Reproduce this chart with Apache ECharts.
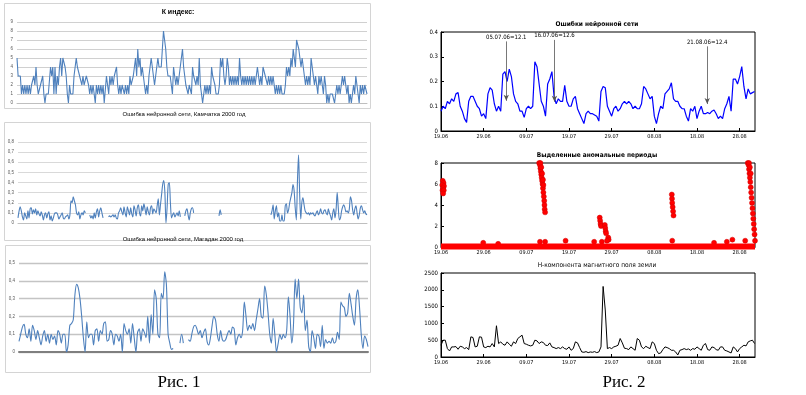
<!DOCTYPE html>
<html><head><meta charset="utf-8">
<script src="https://cdn.jsdelivr.net/npm/echarts@6/dist/echarts.min.js"></script>
<style>html,body{margin:0;padding:0;background:#fff}#c{width:806px;height:395px}</style>
</head><body><div id="c"></div>
<script>
// ---------- DATA ----------
// Рис. 1 — K index (daily, 2000)
const kIndex = [
5,3,3,3,1,2,1,2,1,2, 1,2,1,2,2,3,2,4,2,1, 1,2,2,3,1,0,1,1,1,1, 4,3,4,1,4,1,3,2,4,5,
3,5,5,4,3,1,0,2,1,1, 1,3,4,5,4,4,3,3,2,3, 2,2,3,3,2,1,2,1,2,2, 0,2,1,2,1,2,1,2,0,0,
3,2,1,3,2,3,2,3,3,4, 2,1,2,1,2,2,1,2,1,2, 1,3,2,2,3,4,5,3,6,4, 5,3,4,3,2,1,2,1,3,4,
5,5,3,2,3,4,5,4,4,4, 6,8,7,6,4,3,3,3,2,1, 4,3,2,3,2,2,4,5,6,4, 3,2,2,1,2,
2,1,4,3,3,2,3,2,5,2, 1,0,1,2,1,2,1,2,1,4, 3,3,2,1,1,1,2,5,4,5, 3,2,3,5,4,2,3,2,3,2,
3,2,3,2,5,3,2,3,2,3, 2,3,2,3,2,3,2,3,2,3, 4,3,2,3,2,4,4,3,3,2, 3,2,3,2,3,2,1,2,1,2,
1,2,1,1,1,2,4,3,4,3, 5,4,6,5,4,7,7,6,5,4, 5,4,3,2,3,2,3,2,5,4, 3,2,3,2,1,3,2,3,2,1,
3,2,0,1,0,1,1,1,1,0, 1,2,1,2,1,2,3,2,3,2, 1,2,0,1,0,1,2,1,3,2, 1,0,2,1,2,1,2,2,1
];
// Neural network error, Kamchatka 2000 (null = gap)
const errKamchatka = [
0.05,0.12,0.16,0.12,0.06,0.03,0.1,0.07,0.04,0.12, 0.05,0.14,0.15,0.09,0.13,0.1,0.14,0.08,0.12,0.09,
0.07,0.11,0.08,0.03,0.08,0.1,0.05,0.09,0.11,0.03, 0.07,0.02,0.05,0.09,0.1,0.1,0.08,0.04,0.06,0.08,
0.1,0.05,0.04,0.06,0.07,0.08,0.04,0.08,0.22,0.2, 0.26,0.22,0.18,0.1,0.08,0.11,0.04,0.08,0.1,0.08,
0.12,0.1,null,null,null,0.08,0.05,0.07,0.04,0.1, 0.05,0.11,0.14,0.06,0.12,0.15,0.1,0.05,null,null,
null,null,0.06,0.07,0.06,0.07,0.08,0.06,0.08,0.05, 0.04,0.1,0.12,0.15,0.11,0.08,0.16,0.1,0.06,0.16,
0.12,0.08,0.15,0.09,0.06,0.17,0.13,0.07,0.15,0.18, 0.1,0.07,0.17,0.12,0.19,0.14,0.08,0.16,0.11,0.08,
0.15,0.17,0.09,0.14,0.12,0.1,0.17,0.24,0.08,0.18, 0.28,0.38,0.42,0.3,0,0.15,0.38,0.4,0.2,0.05,
0.08,0.1,0.06,0.08,0.1,0.07,0.12,0.06,null,null, null,0.07,0.12,0.14,0.08,0.03,0.1,0.14,0.15,0.1,
null,null,null,null,null,null,null,null,null,null, null,null,null,null,null,null,null,null,null,null,null,null,
0.07,0.13,0.08,
null,null,null,null,null,null,null,null,null,null, null,null,null,null,null,null,null,null,null,null,
null,null,null,null,null,null,null,null,null,null, null,null,null,null,null,null,null,null,null,null,null,null,null,null,
0.08,0.12,0.18,0.04,0.12,0.17,0.06,0.1,0.02,0.02, 0.08,0.02,0.02,0.17,0.19,0.1,0.13,0.2,0.25,0.3,
0.38,0.32,0.15,0.03,0.4,0.67,0.3,0.04,0.2,0.25, 0.18,0.12,0.1,0.09,0.1,0.08,0.1,0.09,0.1,0.08,
0.07,0.1,0.12,0.08,0.1,0.14,0.1,0.09,0.12,0.13, 0.1,0.08,0.14,0.1,0.07,0.03,0.1,0.14,0.05,0.13,
0.3,0.15,0.03,0.05,0.12,0.16,0.18,0.15,0.11,0.12, 0.1,0.14,0.26,0.22,0.13,0.08,0.14,0.17,0.1,0.04,
0.08,0.15,0.17,0.13,0.1,0.12,0.09,0.08
];
// Neural network error, Magadan 2000
const errMagadan = [
0.06,0.1,0.14,0.155,0.1,0.08,0.13,0.06,0.15,0.12, 0.07,0.12,0.08,0.04,0.09,0.12,0.06,0.1,0.05,0.1,
0.07,0.09,0.04,0.12,0.1,0.05,0.1,0.1,0,0.04, 0.15,0.16,0.18,0.32,0.38,0.36,0.3,0.2,0.08,0,
0.17,0.08,0.1,0.1,0.04,0.12,0.13,0.06,0.12,0.1, 0.16,0.17,0.06,0.07,0.12,0.1,0.04,0.1,0.09,0.06,
0.1,0,0.16,0.12,0.1,0.13,0.05,0.16,0.08,0, 0.11,0.13,0.06,0.13,0.11,0.08,0.2,0.05,0.21,0.1,
0.35,0.3,0.1,0.08,0.33,0.3,0.45,0.38,0.1,0.05, 0.015,0.02,null,null,null,0.05,0.1,0.05,null,null,
0.07,0.06,
0.1,0.14,0.15,0.13,0.1,0.12,0.08,0.11,0.13,0.06, 0.04,0.08,0.15,0.2,0.18,0.1,0.06,0.12,0.07,0.06,
0.07,0.1,0.12,0.1,0.14,0.13,0.04,0.08,0.1,0.08, 0.12,0.28,0.2,0.12,0.15,0.13,0.16,0.12,0.18,0.24,
0.3,0.2,0.19,0.37,0.32,0.22,0.1,0.05,0.19,0.1, 0,0.05,0.1,0.07,0.1,0.08,0.12,0.31,0.2,0.05,
0.15,0.41,0.3,0.41,0.25,0.22,0.32,0.12,0.18,0.03, 0,0.12,0.08,0.02,0.1,0.09,0.03,0.15,0.02,0.07,
0.05,0.06,0.05,0.08,0.05,0.06,0.11,0.07,0.28,0.26, 0.25,0.2,0.22,0.33,0.27,0.2,0.15,0.3,0.35,0.25,
0.1,0.02,0.09,0.07,0.03
];
const kTicksMax = 9;

// Рис. 2 — daily axis from 19.06, samples every half day
const dateTicks = ['19.06','29.06','09.07','19.07','29.07','08.08','18.08','28.08'];
const halfDay = 0.5;
const nnError = [
0.08,0.10,0.09,0.12,0.11,0.13,0.12,0.15,0.155,0.10, 0.08,0.05,0.035,0.12,0.14,0.14,0.12,0.10,0.09,0.06,
0.07,0.05,0.15,0.175,0.165,0.11,0.08,0.10,0.08,0.23, 0.24,0.20,0.25,0.22,0.15,0.12,0.11,0.08,0.08,0.055,
0.09,0.10,0.09,0.10,0.28,0.26,0.19,0.12,0.10,0.06, 0.19,0.21,0.24,0.14,0.11,0.13,0.12,0.12,0.185,0.12,
0.10,0.10,0.13,0.14,0.09,0.07,0.05,0.03,0.07,0.08, 0.07,0.07,0.065,0.06,0.04,0.16,0.18,0.175,0.10,0.08,
0.06,0.09,0.10,0.08,0.09,0.11,0.12,0.11,0.12,0.11, 0.09,0.10,0.09,0.09,0.11,0.18,0.17,0.15,0.13,0.14,
0.06,0.03,0.07,0.10,0.09,0.15,0.16,0.17,0.195,0.13, 0.12,0.12,0.10,0.09,0.09,0.06,0.04,0.09,0.08,0.10,
0.05,0.08,0.10,0.07,0.07,0.075,0.07,0.08,0.085,0.07, 0.05,0.06,0.05,0.09,0.11,0.14,0.08,0.21,0.21,0.19,
0.22,0.26,0.18,0.13,0.17,0.15,0.155,0.16
];
const annotations = [
  {label:'05.07.06=12.1', day:15.3, top:0.362, tip:0.122},
  {label:'16.07.06=12.6', day:26.6, top:0.368, tip:0.118},
  {label:'21.08.06=12.4', day:62.4, top:0.342, tip:0.109}
];
const anomalyPoints = [
  [0.4,6.3],[0.6,6.1],[0.3,5.9],[0.7,5.8],[0.5,5.6],[0.35,5.4],[0.65,5.4],[0.5,5.1],
  [23.0,8.0],[23.2,7.8],[23.3,7.5],[23.4,7.2],[23.5,6.9],[23.6,6.6],[23.7,6.3],[23.8,6.0],
  [23.9,5.6],[24.0,5.2],[24.1,4.8],[24.2,4.4],[24.25,4.0],[24.3,3.6],[24.4,3.3],
  [23.3,8.0],[23.5,7.6],[23.7,7.0],[23.9,6.4],[24.0,5.9],
  [37.2,2.8],[37.3,2.5],[37.4,2.2],[37.5,2.0],[38.4,2.1],[38.5,1.8],[38.6,1.5],[38.7,1.3],[39.2,0.9],[39.3,0.7],
  [54.1,5.0],[54.15,4.6],[54.2,4.2],[54.3,3.8],[54.4,3.4],[54.5,3.0],
  [71.9,8.0],[72.1,7.8],[72.2,7.4],[72.3,7.0],[72.4,6.6],[72.5,6.2],[72.6,5.7],[72.7,5.2],
  [72.8,4.7],[72.9,4.2],[73.0,3.7],[73.1,3.2],[73.2,2.7],[73.3,2.2],[73.4,1.7],[73.5,1.2],[73.6,0.6],
  [72.2,8.0],[72.4,7.6],[72.6,7.0],
  [9.9,0.4],[13.4,0.3],[23.2,0.5],[24.4,0.5],[29.2,0.6],[35.9,0.5],[37.7,0.5],[38.9,0.6],
  [54.2,0.6],[64.0,0.4],[67.0,0.5],[68.3,0.7],[71.3,0.6]
];
const anomalyBase = [[0,0.05],[73.6,0.05]];
const hComponent = [
350,500,500,250,180,300,300,310,230,320, 300,250,280,220,600,580,300,320,600,590,
300,280,320,300,400,300,930,400,450,380, 350,450,380,320,450,400,550,600,650,400,
380,350,330,350,500,480,400,450,430,350, 340,420,300,280,250,280,250,300,250,230,
300,200,250,450,420,280,150,140,160,130, 150,140,160,130,150,300,2100,1400,250,280,
250,300,320,350,550,420,260,250,220,300, 250,200,550,500,300,250,320,280,250,450,
400,200,100,120,220,300,280,250,200,200, 150,60,200,220,250,220,240,200,250,230,
300,250,200,350,400,220,200,300,280,220, 200,300,300,200,180,150,120,300,250,150,
250,300,350,330,450,480,500,400
];

// ---------- CHART ----------
const chart = echarts.init(document.getElementById('c'), null, {renderer:'canvas'});
const sans = "'Liberation Sans', Arial, sans-serif";
const narrow = "'Liberation Sans Narrow','DejaVu Sans Condensed','Liberation Sans',sans-serif";
const serif = "'Liberation Serif','Times New Roman',serif";
const excelBlue = '#4f81bd';

function leftX(gi, n, axisColor, axisWidth){
  return {gridIndex:gi, type:'category', boundaryGap:false,
    data:Array.from({length:n},(_,k)=>k),
    axisLine:{show:true, lineStyle:{color:axisColor, width:axisWidth}},
    axisTick:{show:false}, axisLabel:{show:false}, splitLine:{show:false}};
}
function leftY(gi, max, interval, gridColor, gridWidth, comma){
  return {gridIndex:gi, type:'value', min:0, max:max, interval:interval,
    axisLine:{show:false}, axisTick:{show:false},
    axisLabel:{fontSize:4.5, color:'#595959', margin:4, fontFamily:sans,
      formatter:v=>{const s=String(+v.toFixed(2)); return comma?s.replace('.',','):s;}},
    splitLine:{show:true, lineStyle:{color:gridColor, width:gridWidth}}};
}
function rightX(gi){
  return {gridIndex:gi, type:'value', min:0, max:73.6, interval:10,
    axisLine:{show:true, lineStyle:{color:'#000', width:1}},
    axisTick:{show:true, inside:true, length:3, lineStyle:{color:'#000'}},
    axisLabel:{fontSize:5.5, color:'#000', margin:3, fontFamily:narrow, showMaxLabel:false,
      formatter:v=>(Math.abs(v%10)<1e-6 ? (dateTicks[Math.round(v/10)]||'') : '')},
    splitLine:{show:false}};
}
function rightY(gi, max, interval){
  return {gridIndex:gi, type:'value', min:0, max:max, interval:interval,
    axisLine:{show:true, lineStyle:{color:'#000', width:1}},
    axisTick:{show:true, inside:true, length:3, lineStyle:{color:'#000'}},
    axisLabel:{fontSize:6, color:'#000', margin:3, fontFamily:narrow,
      formatter:v=>String(+v.toFixed(2))},
    splitLine:{show:false}};
}
function txt(text, x, y, font, fill){
  return {type:'text', x:x, y:y, silent:true, z:100,
    style:{text:text, font:font, fill:fill||'#000', align:'center', verticalAlign:'middle'}};
}
function frame(x,y,w,h){
  return {type:'rect', shape:{x:x,y:y,width:w,height:h}, silent:true, z:-1,
    style:{fill:'none', stroke:'#d4d4d4', lineWidth:1}};
}

const option = {
  animation:false,
  backgroundColor:'#fff',
  grid:[
    {left:17, top:22, width:350, height:81, show:false},
    {left:18, top:142, width:349, height:81, show:false},
    {left:19, top:263, width:349, height:89, show:false},
    {left:441, top:32, width:314, height:99, show:true, borderColor:'#000', borderWidth:1},
    {left:441, top:163, width:314, height:84, show:true, borderColor:'#000', borderWidth:1},
    {left:441, top:273, width:314, height:84, show:true, borderColor:'#000', borderWidth:1}
  ],
  xAxis:[
    leftX(0, kIndex.length, '#bfbfbf', 1),
    leftX(1, errKamchatka.length, '#bfbfbf', 1),
    leftX(2, errMagadan.length, '#7f7f7f', 2),
    rightX(3), rightX(4), rightX(5)
  ],
  yAxis:[
    leftY(0, kTicksMax, 1, '#d0d0d0', 1, false),
    leftY(1, 0.8, 0.1, '#d9d9d9', 1, true),
    leftY(2, 0.5, 0.1, '#c4c4c4', 1.3, true),
    rightY(3, 0.4, 0.1), rightY(4, 8, 2), rightY(5, 2500, 500)
  ],
  series:[
    {type:'line', xAxisIndex:0, yAxisIndex:0, data:kIndex, symbol:'none',
      lineStyle:{color:excelBlue, width:1.1}},
    {type:'line', xAxisIndex:1, yAxisIndex:1, data:errKamchatka, symbol:'none', connectNulls:false,
      smooth:0.3, lineStyle:{color:excelBlue, width:1.1}},
    {type:'line', xAxisIndex:2, yAxisIndex:2, data:errMagadan, symbol:'none', connectNulls:false,
      smooth:0.3, lineStyle:{color:excelBlue, width:1.1}},
    {type:'line', xAxisIndex:3, yAxisIndex:3, data:nnError.map((v,i)=>[i*halfDay, v]), symbol:'none',
      lineStyle:{color:'#0000ff', width:1.2},
      markLine:{silent:true, symbol:['none','arrow'], symbolSize:[4,6],
        lineStyle:{color:'#555', width:0.8, type:'solid'},
        label:{show:true, position:'start', formatter:'{b}', fontSize:6, color:'#000', fontFamily:narrow, distance:1},
        data:annotations.map(a=>[{coord:[a.day,a.top], name:a.label}, {coord:[a.day,a.tip]}])}},
    {type:'line', xAxisIndex:4, yAxisIndex:4, data:anomalyBase, symbol:'none', clip:false,
      lineStyle:{color:'#ff0000', width:6}},
    {type:'scatter', xAxisIndex:4, yAxisIndex:4, data:anomalyPoints, symbol:'circle', symbolSize:5,
      itemStyle:{color:'#ff0000', borderColor:'#d00000', borderWidth:0.5, opacity:1}},
    {type:'line', xAxisIndex:5, yAxisIndex:5, data:hComponent.map((v,i)=>[i*halfDay, v]), symbol:'none',
      lineStyle:{color:'#000', width:1}}
  ],
  graphic:[
    frame(4.5,3.5,366,105), frame(4.5,122.5,366,118), frame(5.5,245.5,365,127),
    txt('К индекс:', 178, 12, 'bold 7px '+sans),
    txt('Ошибка нейронной сети, Камчатка 2000 год', 184, 114, '6px '+sans),
    txt('Ошибка нейронной сети, Магадан 2000 год', 183, 239, '6px '+sans),
    txt('Ошибки нейронной сети', 597, 24, 'bold 6.5px '+narrow),
    txt('Выделенные аномальные периоды', 597, 155, 'bold 6.5px '+narrow),
    txt('Н-компонента магнитного поля земли', 597, 265, '6.5px '+narrow),
    txt('Рис. 1', 179, 383, '17px '+serif),
    txt('Рис. 2', 624, 383, '17px '+serif)
  ]
};
chart.setOption(option);
</script>
</body></html>
